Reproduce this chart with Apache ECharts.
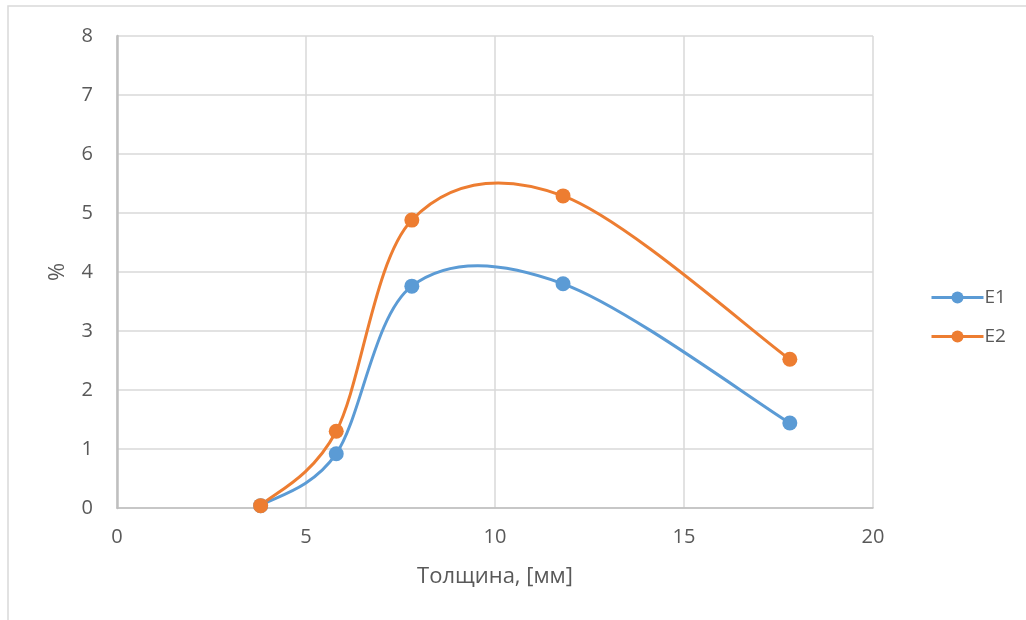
<!DOCTYPE html>
<html>
<head>
<meta charset="utf-8">
<script src="https://cdn.jsdelivr.net/npm/echarts@6/dist/echarts.min.js"></script>
<style>
  html, body { margin: 0; padding: 0; background: #fff; }
  #chart { width: 1026px; height: 620px; }
</style>
</head>
<body>
<div id="chart"></div>
<script>
// Thickness (mm) on x, percentage on y
const thickness = [3.8, 5.8, 7.8, 11.8, 17.8];
const e1Values = [0.04, 0.92, 3.76, 3.80, 1.44];
const e2Values = [0.04, 1.30, 4.88, 5.29, 2.52];
const seriesNames = ['E1', 'E2'];
const xTicks = [0, 5, 10, 15, 20];
const yTicks = [0, 1, 2, 3, 4, 5, 6, 7, 8];

const colors = ['#5b9bd5', '#ed7d31'];
const font = '"Open Sans", "Liberation Sans", sans-serif';
const textColor = '#595959';

const pairs = (xs, ys) => xs.map((x, i) => [x, ys[i]]);

// Smoothed curve: each item draws one cubic segment between neighbouring
// points, with Catmull-Rom style tangents taken in pixel space.
function curveSeries(values, color) {
  return {
    type: 'custom',
    data: pairs(thickness, values).slice(0, -1),
    encode: { x: 0, y: 1 },
    z: 2,
    silent: true,
    renderItem: function (params, api) {
      const i = params.dataIndex;
      const n = thickness.length;
      const p = (k) => {
        const j = Math.max(0, Math.min(n - 1, k));
        return api.coord([thickness[j], values[j]]);
      };
      const p0 = p(i - 1), p1 = p(i), p2 = p(i + 1), p3 = p(i + 2);
      const t = 1 / 6;
      return {
        type: 'bezierCurve',
        shape: {
          x1: p1[0], y1: p1[1],
          x2: p2[0], y2: p2[1],
          cpx1: p1[0] + (p2[0] - p0[0]) * t,
          cpy1: p1[1] + (p2[1] - p0[1]) * t,
          cpx2: p2[0] - (p3[0] - p1[0]) * t,
          cpy2: p2[1] - (p3[1] - p1[1]) * t
        },
        style: { fill: null, stroke: color, lineWidth: 3, lineCap: 'round' }
      };
    }
  };
}

function markerSeries(name, values, color, z) {
  return {
    name: name,
    type: 'line',
    data: pairs(thickness, values),
    symbol: 'circle',
    symbolSize: 15,
    lineStyle: { width: 0, opacity: 0, color: color },
    itemStyle: { color: color },
    z: z
  };
}

const chart = echarts.init(document.getElementById('chart'), null, { renderer: 'canvas' });

chart.setOption({
  animation: false,
  backgroundColor: '#fff',
  graphic: [{
    type: 'rect',
    shape: { x: 8, y: 6, width: 1040, height: 640 },
    style: { fill: 'none', stroke: '#d9d9d9', lineWidth: 1.5 },
    silent: true
  }],
  grid: { left: 117, right: 153, top: 36, bottom: 112, containLabel: false },
  legend: {
    orient: 'vertical',
    left: 925,
    top: 283,
    itemGap: 20,
    itemWidth: 52,
    itemHeight: 15,
    data: seriesNames.map((n, i) => ({
      name: n,
      lineStyle: { width: 3, opacity: 1, color: colors[i] }
    })),
    textStyle: { fontFamily: font, fontSize: 19, color: textColor, padding: [0, 0, 0, -4] }
  },
  xAxis: {
    type: 'value',
    min: xTicks[0],
    max: xTicks[xTicks.length - 1],
    interval: 5,
    name: 'Толщина, [мм]',
    nameLocation: 'middle',
    nameGap: 58,
    nameTextStyle: { fontFamily: font, fontSize: 22, color: textColor },
    axisLine: { show: true, lineStyle: { color: '#bfbfbf', width: 1.5 } },
    axisTick: { show: false },
    axisLabel: { fontFamily: font, fontSize: 20, color: textColor, margin: 19 },
    splitLine: { show: true, lineStyle: { color: '#d9d9d9', width: 1.5 } }
  },
  yAxis: {
    type: 'value',
    min: yTicks[0],
    max: yTicks[yTicks.length - 1],
    interval: 1,
    name: '%',
    nameLocation: 'middle',
    nameGap: 48,
    nameRotate: 90,
    nameTextStyle: { fontFamily: font, fontSize: 22, color: textColor },
    axisLine: { show: true, lineStyle: { color: '#bfbfbf', width: 2.5 } },
    axisTick: { show: false },
    axisLabel: { fontFamily: font, fontSize: 20, color: textColor, margin: 24 },
    splitLine: { show: true, lineStyle: { color: '#d9d9d9', width: 1.5 } }
  },
  series: [
    curveSeries(e1Values, colors[0]),
    curveSeries(e2Values, colors[1]),
    markerSeries(seriesNames[0], e1Values, colors[0], 3),
    markerSeries(seriesNames[1], e2Values, colors[1], 4)
  ]
});
</script>
</body>
</html>
